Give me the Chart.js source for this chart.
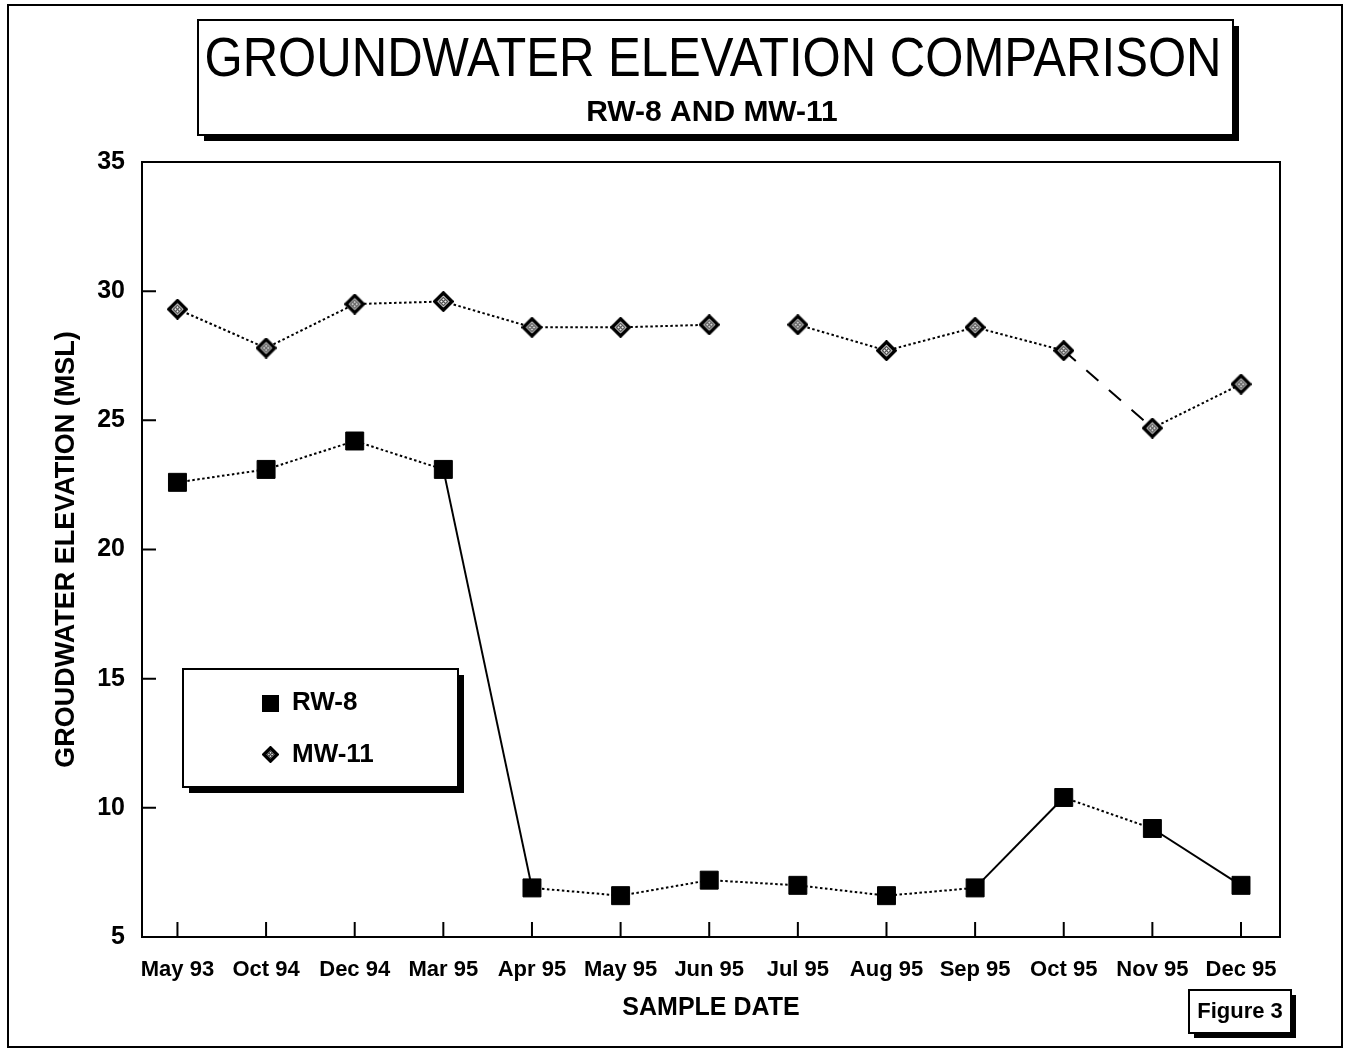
<!DOCTYPE html>
<html lang="en">
<head>
  <meta charset="UTF-8" />
  <title>Groundwater Elevation Comparison</title>
  <script src="https://cdn.jsdelivr.net/npm/chart.js"></script>
  <style>
    body { margin: 0; background: #fff; }
    #wrap { width: 1349px; height: 1050px; }
  </style>
</head>
<body>
  <div id="wrap"><canvas id="gwChart" width="1349" height="1050"></canvas></div>

  <script>
    const sampleDates = ["May 93", "Oct 94", "Dec 94", "Mar 95", "Apr 95", "May 95", "Jun 95",
                         "Jul 95", "Aug 95", "Sep 95", "Oct 95", "Nov 95", "Dec 95"];
    const rw8  = [22.6, 23.1, 24.2, 23.1, 6.9, 6.6, 7.2, 7.0, 6.6, 6.9, 10.4, 9.2, 7.0];
    const mw11 = [29.3, 27.8, 29.5, 29.6, 28.6, 28.6, 28.7, 28.7, 27.7, 28.6, 27.7, 24.7, 26.4];
    const yTicks = [5, 10, 15, 20, 25, 30, 35];

    // line pattern for each segment (segment i joins point i and i+1)
    const rwSegs = ["dot", "dot", "dot", "solid", "dot", "dot", "dot", "dot", "dot", "solid", "dot", "solid"];
    const mwSegs = ["dot", "dot", "dot", "dot", "dot", "dot", "none", "dot", "dot", "dot", "dash", "dot"];

    const FONT = "'Liberation Sans', Arial, Helvetica, sans-serif";
    const dashes = { dot: [2.5, 2.5], dash: [16, 14], solid: [], none: [] };

    // hatched diamond used for MW-11
    function diamondMarker(size) {
      const c = document.createElement("canvas");
      c.width = c.height = size;
      const g = c.getContext("2d");
      const m = size / 2;
      g.beginPath();
      g.moveTo(m, 2); g.lineTo(size - 2, m); g.lineTo(m, size - 2); g.lineTo(2, m);
      g.closePath();
      g.fillStyle = "#fff"; g.fill();
      g.lineWidth = 3.5; g.strokeStyle = "#000"; g.stroke();
      const q = size * 0.2;
      g.lineWidth = 1.2; g.strokeStyle = "#444";
      g.beginPath();
      g.moveTo(m, m - q); g.lineTo(m + q, m); g.lineTo(m, m + q); g.lineTo(m - q, m); g.closePath();
      g.stroke();
      g.beginPath();
      g.moveTo(m - q / 2, m - q / 2); g.lineTo(m + q / 2, m + q / 2);
      g.moveTo(m - q / 2, m + q / 2); g.lineTo(m + q / 2, m - q / 2);
      g.stroke();
      return c;
    }
    const mwPoint = diamondMarker(21);
    const mwLegendPoint = diamondMarker(17);

    function shadowBox(ctx, x, y, w, h, s) {
      ctx.fillStyle = "#fff";
      ctx.fillRect(x, y, w, h);
      ctx.fillStyle = "#000";
      ctx.fillRect(x + s, y + h, w, s);
      ctx.fillRect(x + w, y + s, s, h);
      ctx.lineWidth = 2;
      ctx.strokeStyle = "#000";
      ctx.strokeRect(x, y, w, h);
    }

    const decorations = {
      id: "decorations",
      beforeDraw(chart) {
        const ctx = chart.ctx;
        ctx.save();
        ctx.fillStyle = "#fff";
        ctx.fillRect(0, 0, chart.width, chart.height);
        ctx.lineWidth = 2;
        ctx.strokeStyle = "#000";
        ctx.strokeRect(8, 5, 1334, 1042);
        ctx.restore();
      },
      afterDraw(chart) {
        const ctx = chart.ctx;
        const a = chart.chartArea;
        const xs = chart.scales.x, ys = chart.scales.y;
        ctx.save();

        // plot frame with inward tick marks
        ctx.lineWidth = 2;
        ctx.strokeStyle = "#000";
        ctx.strokeRect(a.left, a.top, a.right - a.left, a.bottom - a.top);
        ctx.beginPath();
        ys.ticks.forEach(t => {
          const y = ys.getPixelForValue(t.value);
          ctx.moveTo(a.left, y); ctx.lineTo(a.left + 14, y);
        });
        xs.ticks.forEach(t => {
          const x = xs.getPixelForValue(t.value);
          ctx.moveTo(x, a.bottom); ctx.lineTo(x, a.bottom - 15);
        });
        ctx.stroke();

        // title block
        shadowBox(ctx, 198, 20, 1035, 115, 6);
        ctx.fillStyle = "#000";
        ctx.textAlign = "center";
        ctx.textBaseline = "alphabetic";
        ctx.font = "55px " + FONT;
        ctx.fillText("GROUNDWATER ELEVATION COMPARISON", 713, 76, 1017);
        ctx.font = "bold 30px " + FONT;
        ctx.fillText("RW-8 AND MW-11", 712, 121, 270);

        // legend
        shadowBox(ctx, 183, 669, 275, 118, 6);
        ctx.fillStyle = "#000";
        ctx.fillRect(262, 695, 17, 17);
        ctx.drawImage(mwLegendPoint, 262, 746);
        ctx.textAlign = "left";
        ctx.textBaseline = "middle";
        ctx.font = "bold 26px " + FONT;
        ctx.fillText(chart.data.datasets[0].label, 292, 703);
        ctx.fillText(chart.data.datasets[1].label, 292, 755);

        // figure tag
        shadowBox(ctx, 1189, 990, 102, 43, 5);
        ctx.fillStyle = "#000";
        ctx.textAlign = "center";
        ctx.font = "bold 22px " + FONT;
        ctx.fillText("Figure 3", 1240, 1012);
        ctx.restore();
      }
    };

    new Chart(document.getElementById("gwChart"), {
      type: "line",
      data: {
        datasets: [
          {
            label: "RW-8",
            data: rw8.map((v, i) => ({ x: i, y: v })),
            borderColor: "#000",
            borderWidth: 2,
            tension: 0,
            pointStyle: "rect",
            pointRadius: 12.7,
            pointBackgroundColor: "#000",
            pointBorderColor: "#000",
            pointBorderWidth: 1,
            segment: { borderDash: c => dashes[rwSegs[c.p0DataIndex]] }
          },
          {
            label: "MW-11",
            data: mw11.map((v, i) => ({ x: i, y: v })),
            borderColor: "#000",
            borderWidth: 2,
            tension: 0,
            pointStyle: mwPoint,
            pointRadius: 10,
            segment: {
              borderDash: c => dashes[mwSegs[c.p0DataIndex]],
              borderColor: c => mwSegs[c.p0DataIndex] === "none" ? "rgba(0,0,0,0)" : "#000"
            }
          }
        ]
      },
      options: {
        responsive: false,
        animation: false,
        layout: { padding: { left: 0, top: 162, right: 69, bottom: 0 } },
        plugins: {
          legend: { display: false },
          tooltip: { enabled: false }
        },
        scales: {
          x: {
            type: "linear",
            min: -0.4,
            max: 12.44,
            bounds: "data",
            afterBuildTicks: s => { s.ticks = sampleDates.map((d, i) => ({ value: i })); },
            afterFit: s => { s.height = 113; },
            grid: { display: false, drawTicks: false },
            border: { display: false },
            ticks: {
              autoSkip: false,
              maxRotation: 0,
              padding: 20,
              color: "#000",
              font: { family: FONT, size: 22, weight: "bold" },
              callback: v => sampleDates[v]
            },
            title: {
              display: true,
              text: "SAMPLE DATE",
              color: "#000",
              font: { family: FONT, size: 25, weight: "bold" },
              padding: { top: 0, bottom: 27 }
            }
          },
          y: {
            min: 5,
            max: 35,
            afterBuildTicks: s => { s.ticks = yTicks.map(v => ({ value: v })); },
            afterFit: s => { s.width = 142; },
            grid: { display: false, drawTicks: false },
            border: { display: false },
            ticks: {
              padding: 17,
              color: "#000",
              font: { family: FONT, size: 25, weight: "bold" }
            },
            title: {
              display: true,
              text: "GROUDWATER ELEVATION (MSL)",
              color: "#000",
              font: { family: FONT, size: 27, weight: "bold" },
              padding: { top: 50, bottom: 0 }
            }
          }
        }
      },
      plugins: [decorations]
    });
  </script>
</body>
</html>
